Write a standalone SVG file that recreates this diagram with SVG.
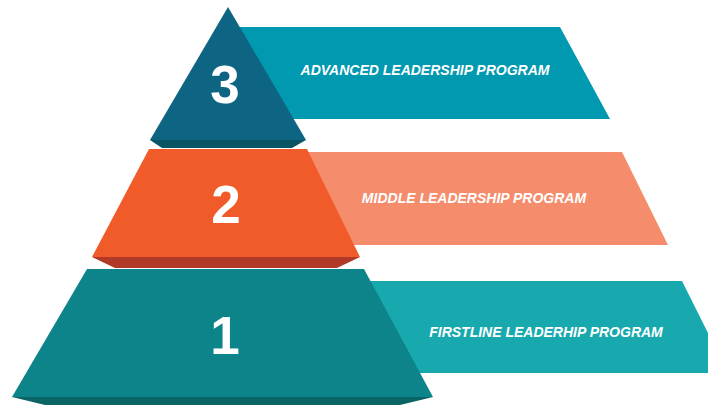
<svg xmlns="http://www.w3.org/2000/svg" width="708" height="405" viewBox="0 0 708 405">
<style>
.lbl{font-family:"Liberation Sans",Arial,sans-serif;font-weight:bold;font-style:italic;font-size:14px;fill:#ffffff;text-anchor:middle}
.num{font-family:"Liberation Sans",Arial,sans-serif;font-weight:bold;font-size:53px;fill:#ffffff;text-anchor:middle}
</style>
<rect width="708" height="405" fill="#ffffff"/>
<g id="banner3">
<polygon points="235,27 560,27 610,119 290,119" fill="#0099b0"/>
<text class="lbl" x="425" y="75">ADVANCED LEADERSHIP PROGRAM</text>
</g>
<g id="banner2">
<polygon points="300,152 622,152 668,245 350,245" fill="#f58d6c"/>
<text class="lbl" x="474" y="203">MIDDLE LEADERSHIP PROGRAM</text>
</g>
<g id="banner1">
<polygon points="360,281 682,281 728,373 410,373" fill="#17a9ad"/>
<text class="lbl" x="546" y="337">FIRSTLINE LEADERHIP PROGRAM</text>
</g>
<g id="level1">
<polygon points="12,397 433,397 400,405 45,405" fill="#0a6466"/>
<polygon points="87,269 364,269 433,397 12,397" fill="#0d8489"/>
<text class="num" x="225" y="354">1</text>
</g>
<g id="level2">
<polygon points="92,257 360,257 337,268 115,268" fill="#b03a27"/>
<polygon points="149,149 307,149 360,257 92,257" fill="#f15a29"/>
<text class="num" x="226" y="223">2</text>
</g>
<g id="level3">
<polygon points="150,140 306,140 292,148 162,148" fill="#0a5563"/>
<polygon points="228,7 306,140 150,140" fill="#0d6483"/>
<text class="num" x="225" y="103">3</text>
</g>
<g id="connectors"></g>
</svg>
